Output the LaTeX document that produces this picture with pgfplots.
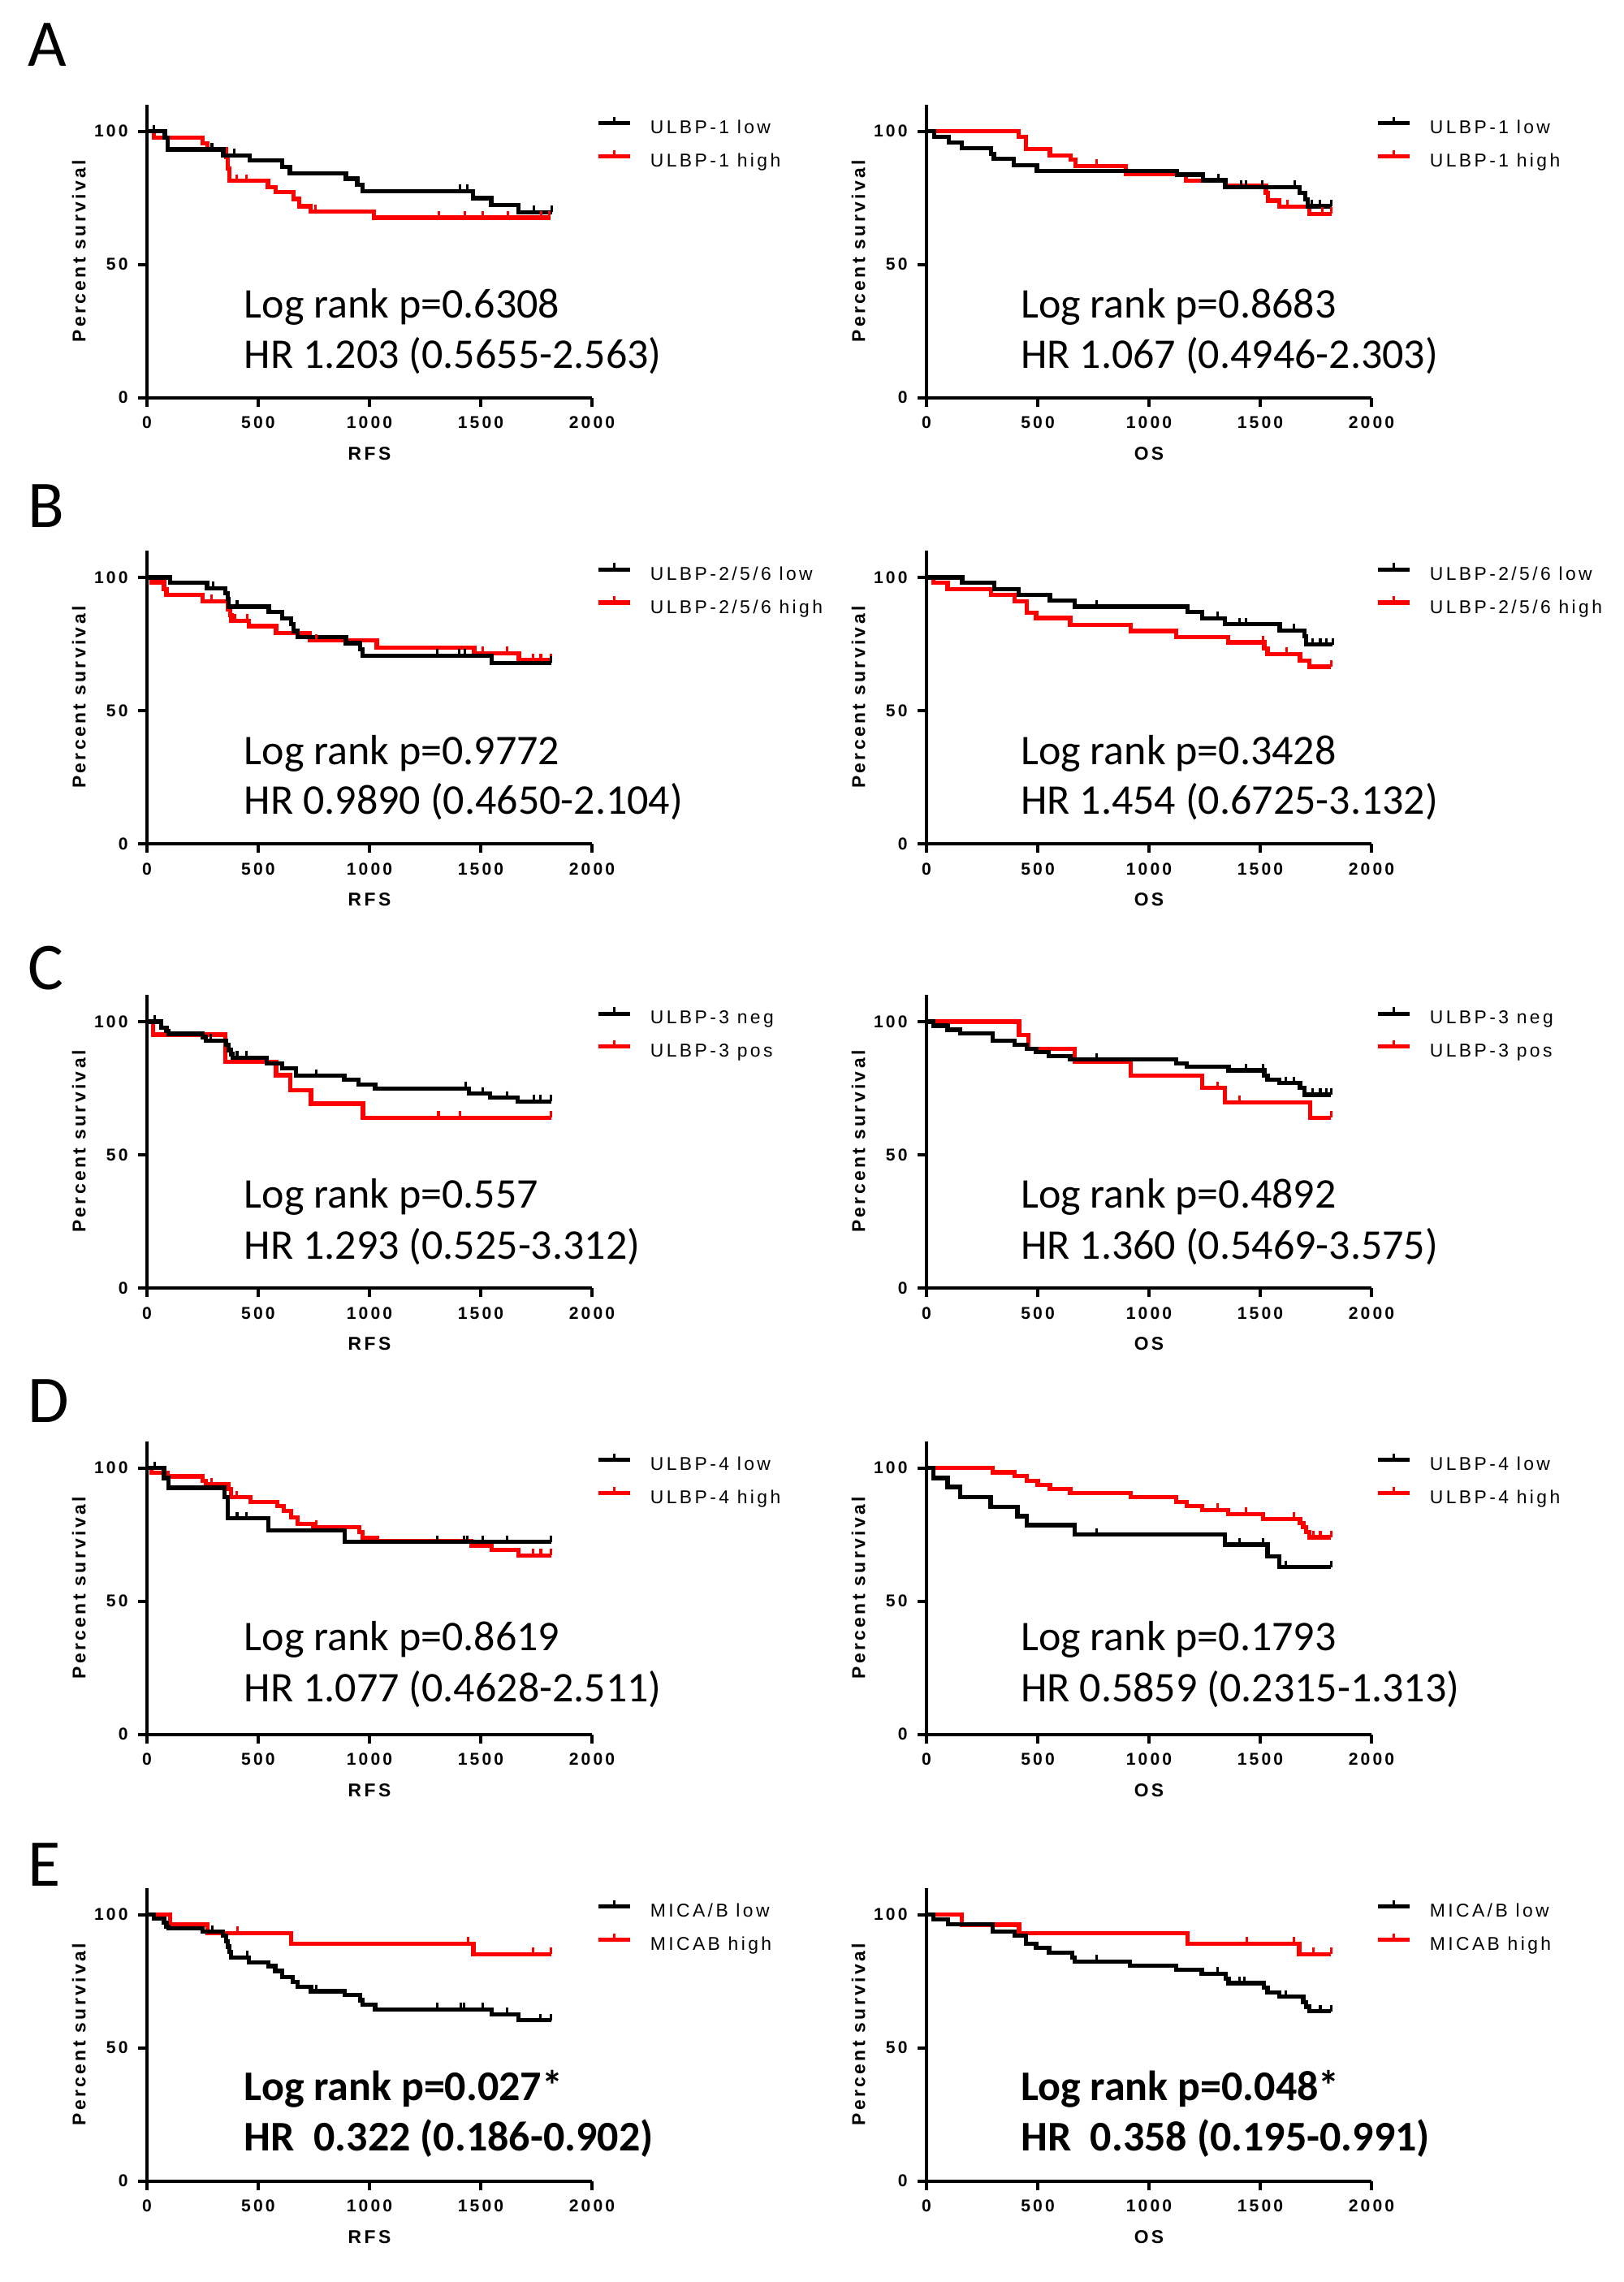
\documentclass[border=0pt]{standalone}
\usepackage{fontspec}
\setmainfont{Liberation Sans}
\newfontfamily\prismfont[LetterSpace=15]{Liberation Sans}
\newfontfamily\calfont{Carlito}
\usepackage{pgfplots}
\pgfplotsset{compat=1.18}

\newcommand\tickf{\prismfont\bfseries\fontsize{6}{7}\selectfont}
\newcommand\labf{\prismfont\bfseries\fontsize{6.5}{8}\selectfont}
\newcommand\legf{\prismfont\fontsize{6.5}{8}\selectfont}
\newcommand\statf{\calfont\fontsize{14.8}{17}\selectfont}
\newcommand\letf{\calfont\fontsize{23.4}{26}\selectfont}

\pgfplotsset{
  km/.style={
    scale only axis, width=54.8mm, height=36.08mm,
    xmin=0, xmax=2000, ymin=0, ymax=110,
    axis x line*=bottom, axis y line*=left,
    axis line style={-, line width=1.2pt},
    xtick={0,500,1000,1500,2000}, ytick={0,50,100},
    tick align=outside, major tick length=1.1mm,
    tick style={line width=1.2pt, black},
    ticklabel style={font=\tickf},
    /pgf/number format/assume math mode=true,
    /pgf/number format/1000 sep={},
    clip=false,
    ylabel={Percent survival},
    ylabel style={at={(rel axis cs:-0.153,0.5)}, anchor=center, font=\labf},
    xlabel style={at={(rel axis cs:0.5,-0.19)}, anchor=center, font=\labf},
    legend style={draw=none, fill=none, at={(rel axis cs:1.009,0.965)},
      anchor=north west, font=\legf, inner sep=0pt, row sep=1.3mm,
      column sep=2.2mm, nodes={inner sep=0pt}},
    legend cell align=left,
    legend image code/.code={
      \draw[##1, line width=1.5pt] (0mm,0.75mm) -- (3.9mm,0.75mm);
      \draw[##1, line width=0.9pt] (1.95mm,0.75mm) -- (1.95mm,1.55mm);},
  },
  surv/.style={const plot, line width=1.5pt, mark=none, forget plot},
  cens/.style={only marks, mark=|, mark size=0.4mm, forget plot,
    mark options={yshift=0.4mm, line width=0.9pt}},
}

\begin{document}
\begin{tikzpicture}
\path[use as bounding box] (0,0) rectangle (200mm,-281mm);

% panel letters
\node[anchor=base west, inner sep=0pt, font=\letf] at (3.4mm,-8.1mm) {A};
\node[anchor=base west, inner sep=0pt, font=\letf] at (3.4mm,-64.9mm) {B};
\node[anchor=base west, inner sep=0pt, font=\letf] at (3.4mm,-121.8mm) {C};
\node[anchor=base west, inner sep=0pt, font=\letf] at (3.4mm,-175.1mm) {D};
\node[anchor=base west, inner sep=0pt, font=\letf] at (3.4mm,-232.2mm) {E};

%% ---------------- A: ULBP-1 ----------------
\begin{axis}[km, at={(18.1mm,-48.96mm)}, anchor=south west, xlabel={RFS}]
\addplot[surv, red] coordinates {(0,100) (30,97.7) (250,95.4) (273,93.2) (355,90.4) (362,86) (370,81.4) (544,79.1) (579,77.2) (660,74.6) (684,71.8) (735,69.9) (1020,67.6) (1813,67.6)};
\addplot[cens, red] coordinates {(404,81.4) (446,81.4) (758,69.9) (1311,67.6) (1428,67.6) (1510,67.6) (1622,67.6) (1773,67.6) (1809,67.6)};
\addplot[surv, black] coordinates {(0,100) (80,97.7) (93,93.2) (343,91.0) (462,89.0) (607,86.7) (642,84.2) (894,82.2) (945,80.0) (968,77.5) (1466,74.9) (1547,72.4) (1669,69.6) (1820,69.6)};
\addplot[cens, black] coordinates {(30,100) (292,93.2) (392,91.0) (1407,77.5) (1440,77.5) (1739,69.6) (1820,69.6)};
\addlegendimage{black}\addlegendentry{ULBP-1 low}
\addlegendimage{red}\addlegendentry{ULBP-1 high}
\node[anchor=base west, inner sep=0pt, font=\statf] at (axis cs:435,29.9) {Log rank p=0.6308};
\node[anchor=base west, inner sep=0pt, font=\statf] at (axis cs:435,11.0) {HR 1.203 (0.5655-2.563)};
\end{axis}

\begin{axis}[km, at={(114.1mm,-48.96mm)}, anchor=south west, xlabel={OS}]
\addplot[surv, red] coordinates {(0,100) (413,98) (448,93.4) (555,91) (648,89.3) (671,87) (895,83.9) (1165,81.4) (1343,79.5) (1526,76.9) (1535,74) (1585,71.7) (1720,69) (1820,69)};
\addplot[cens, red] coordinates {(765,87) (1622,71.7) (1778,69) (1820,69)};
\addplot[surv, black] coordinates {(0,100) (35,98) (100,95.7) (159,93.6) (291,91.5) (303,89.6) (391,87.3) (496,85.0) (1126,83.7) (1242,81.6) (1343,79.1) (1678,76.9) (1702,74.4) (1713,71.8) (1820,71.8)};
\addplot[cens, black] coordinates {(1312,81.6) (1413,79.1) (1436,79.1) (1510,79.1) (1655,79.1) (1732,71.8) (1767,71.8) (1820,71.8)};
\addlegendimage{black}\addlegendentry{ULBP-1 low}
\addlegendimage{red}\addlegendentry{ULBP-1 high}
\node[anchor=base west, inner sep=0pt, font=\statf] at (axis cs:422,29.9) {Log rank p=0.8683};
\node[anchor=base west, inner sep=0pt, font=\statf] at (axis cs:422,11.0) {HR 1.067 (0.4946-2.303)};
\end{axis}

%% ---------------- B: ULBP-2/5/6 ----------------
\begin{axis}[km, at={(18.1mm,-103.9mm)}, anchor=south west, xlabel={RFS}]
\addplot[surv, red] coordinates {(0,100) (21,98.2) (77,95.6) (88,93.4) (251,91.1) (363,88) (374,85.8) (380,83.8) (458,81.7) (580,79.1) (733,76.3) (1033,73.6) (1471,71.6) (1672,68.9) (1816,68.9)};
\addplot[cens, red] coordinates {(289,91.1) (394,83.8) (450,83.8) (761,76.3) (1509,71.6) (1620,71.6) (1736,68.9) (1770,68.9) (1816,68.9)};
\addplot[surv, black] coordinates {(0,100) (105,98) (270,95.9) (353,94.1) (362,92) (367,89) (547,87) (607,84.7) (649,82.4) (660,79.9) (677,77.7) (894,75.3) (957,73) (968,70.6) (1548,67.9) (1816,67.9)};
\addplot[cens, black] coordinates {(297,95.9) (405,89) (1306,70.6) (1404,70.6) (1429,70.6) (1816,67.9)};
\addlegendimage{black}\addlegendentry{ULBP-2/5/6 low}
\addlegendimage{red}\addlegendentry{ULBP-2/5/6 high}
\node[anchor=base west, inner sep=0pt, font=\statf] at (axis cs:435,29.7) {Log rank p=0.9772};
\node[anchor=base west, inner sep=0pt, font=\statf] at (axis cs:435,11.0) {HR 0.9890 (0.4650-2.104)};
\end{axis}

\begin{axis}[km, at={(114.1mm,-103.9mm)}, anchor=south west, xlabel={OS}]
\addplot[surv, red] coordinates {(0,100) (32,98) (95,95.6) (290,93.4) (395,91.1) (451,86.8) (493,84.8) (646,82.1) (918,79.9) (1121,77.7) (1355,75.6) (1518,73.3) (1533,71.3) (1679,68.7) (1721,66.5) (1818,66.5)};
\addplot[cens, red] coordinates {(1512,75.6) (1620,71.3) (1818,66.5)};
\addplot[surv, black] coordinates {(0,100) (161,98) (304,95.6) (413,93.4) (555,91.3) (667,89) (1172,87) (1240,84.7) (1341,82.4) (1588,80.1) (1700,77.9) (1707,74.8) (1826,74.8)};
\addplot[cens, black] coordinates {(765,89) (1309,84.7) (1407,82.4) (1435,82.4) (1651,80.1) (1735,74.8) (1770,74.8) (1798,74.8) (1826,74.8)};
\addlegendimage{black}\addlegendentry{ULBP-2/5/6 low}
\addlegendimage{red}\addlegendentry{ULBP-2/5/6 high}
\node[anchor=base west, inner sep=0pt, font=\statf] at (axis cs:422,29.7) {Log rank p=0.3428};
\node[anchor=base west, inner sep=0pt, font=\statf] at (axis cs:422,11.0) {HR 1.454 (0.6725-3.132)};
\end{axis}

%% ---------------- C: ULBP-3 ----------------
\begin{axis}[km, at={(18.1mm,-158.6mm)}, anchor=south west, xlabel={RFS}]
\addplot[surv, red] coordinates {(0,100) (28,95.1) (353,85.0) (580,79.9) (643,74.3) (737,69.2) (971,63.9) (1816,63.9)};
\addplot[cens, red] coordinates {(1310,63.9) (1406,63.9) (1816,63.9)};
\addplot[surv, black] coordinates {(0,100) (63,97.8) (88,96.5) (98,95.4) (251,94.2) (265,92.9) (356,91.4) (367,89.3) (377,87.8) (384,86.5) (538,84.2) (607,82.4) (670,79.7) (887,78.1) (950,76.3) (1026,74.9) (1446,73) (1543,71.5) (1666,70) (1816,70)};
\addplot[cens, black] coordinates {(35,100) (286,92.9) (405,86.5) (447,86.5) (761,79.7) (1432,74.9) (1509,73) (1620,71.5) (1739,70) (1767,70) (1816,70)};
\addlegendimage{black}\addlegendentry{ULBP-3 neg}
\addlegendimage{red}\addlegendentry{ULBP-3 pos}
\node[anchor=base west, inner sep=0pt, font=\statf] at (axis cs:435,29.9) {Log rank p=0.557};
\node[anchor=base west, inner sep=0pt, font=\statf] at (axis cs:435,10.7) {HR 1.293 (0.525-3.312)};
\end{axis}

\begin{axis}[km, at={(114.1mm,-158.6mm)}, anchor=south west, xlabel={OS}]
\addplot[surv, red] coordinates {(0,100) (416,94.9) (458,89.8) (667,85.0) (918,79.7) (1239,75.1) (1341,69.7) (1725,63.9) (1818,63.9)};
\addplot[cens, red] coordinates {(1309,75.1) (1407,69.7) (1818,63.9)};
\addplot[surv, black] coordinates {(0,100) (32,98.5) (95,97) (151,95.6) (297,92.9) (395,91.4) (451,89.8) (493,88.5) (549,87.1) (646,85.8) (1121,84.4) (1169,83) (1358,81.7) (1518,79.7) (1533,78.3) (1585,76.9) (1679,75.1) (1700,72.6) (1818,72.6)};
\addplot[cens, black] coordinates {(765,85.8) (1435,81.7) (1512,81.7) (1616,76.9) (1651,76.9) (1735,72.6) (1770,72.6) (1798,72.6) (1818,72.6)};
\addlegendimage{black}\addlegendentry{ULBP-3 neg}
\addlegendimage{red}\addlegendentry{ULBP-3 pos}
\node[anchor=base west, inner sep=0pt, font=\statf] at (axis cs:422,29.9) {Log rank p=0.4892};
\node[anchor=base west, inner sep=0pt, font=\statf] at (axis cs:422,10.7) {HR 1.360 (0.5469-3.575)};
\end{axis}

%% ---------------- D: ULBP-4 ----------------
\begin{axis}[km, at={(18.1mm,-213.57mm)}, anchor=south west, xlabel={RFS}]
\addplot[surv, red] coordinates {(0,100) (21,98.2) (91,96.9) (251,95.3) (265,93.8) (367,92.1) (377,89.0) (466,87.3) (587,85.8) (615,84) (649,81.4) (677,79.1) (747,77.9) (954,76) (970,73.8) (1033,72.6) (1459,70.8) (1550,69.2) (1669,67.2) (1816,67.2)};
\addplot[cens, red] coordinates {(291,93.8) (403,89) (761,77.9) (1736,67.2) (1770,67.2) (1816,67.2)};
\addplot[surv, black] coordinates {(0,100) (77,96.3) (98,92.6) (349,89) (363,81.1) (545,76.6) (890,72.3) (1816,72.3)};
\addplot[cens, black] coordinates {(35,100) (405,81.1) (447,81.1) (1306,72.3) (1425,72.3) (1439,72.3) (1509,72.3) (1620,72.3) (1816,72.3)};
\addlegendimage{black}\addlegendentry{ULBP-4 low}
\addlegendimage{red}\addlegendentry{ULBP-4 high}
\node[anchor=base west, inner sep=0pt, font=\statf] at (axis cs:435,31.4) {Log rank p=0.8619};
\node[anchor=base west, inner sep=0pt, font=\statf] at (axis cs:435,12.2) {HR 1.077 (0.4628-2.511)};
\end{axis}

\begin{axis}[km, at={(114.1mm,-213.57mm)}, anchor=south west, xlabel={OS}]
\addplot[surv, red] coordinates {(0,100) (297,98.4) (395,97) (451,95.3) (500,93.6) (555,92.1) (646,90.6) (918,89) (1121,87.3) (1169,85.8) (1239,84.3) (1355,82.7) (1512,80.9) (1679,79.4) (1693,77.9) (1707,76) (1721,74) (1818,74)};
\addplot[cens, red] coordinates {(1309,84.3) (1435,82.7) (1651,80.9) (1739,74) (1770,74) (1818,74)};
\addplot[surv, black] coordinates {(0,100) (32,96.3) (95,92.9) (151,89.2) (288,85.5) (409,81.9) (451,78.6) (667,75) (1341,71.3) (1533,66.9) (1585,62.8) (1818,62.8)};
\addplot[cens, black] coordinates {(765,75) (1407,71.3) (1512,71.3) (1616,62.8) (1818,62.8)};
\addlegendimage{black}\addlegendentry{ULBP-4 low}
\addlegendimage{red}\addlegendentry{ULBP-4 high}
\node[anchor=base west, inner sep=0pt, font=\statf] at (axis cs:422,31.4) {Log rank p=0.1793};
\node[anchor=base west, inner sep=0pt, font=\statf] at (axis cs:422,12.2) {HR 0.5859 (0.2315-1.313)};
\end{axis}

%% ---------------- E: MICA/B ----------------
\begin{axis}[km, at={(18.1mm,-268.57mm)}, anchor=south west, xlabel={RFS}]
\addplot[surv, red] coordinates {(0,100) (105,96.3) (272,93.1) (647,89.1) (1467,85.2) (1816,85.2)};
\addplot[cens, red] coordinates {(406,93.1) (1442,89.1) (1736,85.2) (1816,85.2)};
\addplot[surv, black] coordinates {(0,100) (32,98.5) (77,97) (88,95.6) (98,95) (251,93.6) (342,92.1) (356,90.1) (363,88) (370,86) (377,84) (458,82.1) (545,80.7) (577,78.9) (607,76.6) (656,74.8) (677,73) (737,71.3) (890,69.8) (957,67.9) (970,66.2) (1026,64.5) (1548,62.6) (1669,60.4) (1816,60.4)};
\addplot[cens, black] coordinates {(293,93.6) (451,84) (761,71.3) (1306,64.5) (1411,64.5) (1425,64.5) (1509,64.5) (1620,62.6) (1767,60.4) (1816,60.4)};
\addlegendimage{black}\addlegendentry{MICA/B low}
\addlegendimage{red}\addlegendentry{MICAB high}
\node[anchor=base west, inner sep=0pt, font=\statf\bfseries] at (axis cs:435,30.2) {Log rank p=0.027*};
\node[anchor=base west, inner sep=0pt, font=\statf\bfseries] at (axis cs:435,11.4) {HR\ \ 0.322 (0.186-0.902)};
\end{axis}

\begin{axis}[km, at={(114.1mm,-268.57mm)}, anchor=south west, xlabel={OS}]
\addplot[surv, red] coordinates {(0,100) (158,96.3) (416,93.1) (1172,89.1) (1675,85.2) (1818,85.2)};
\addplot[cens, red] coordinates {(1441,89.1) (1651,89.1) (1739,85.2) (1818,85.2)};
\addplot[surv, black] coordinates {(0,100) (32,98.3) (98,96.4) (297,93.6) (395,92.1) (447,89.2) (493,87.5) (551,85.8) (656,84) (667,82.4) (914,80.9) (1121,79.4) (1237,77.9) (1344,76) (1358,74.3) (1516,72.6) (1533,70.8) (1585,69.2) (1693,67.2) (1707,65.5) (1721,63.7) (1818,63.7)};
\addplot[cens, black] coordinates {(765,82.4) (1309,77.9) (1407,74.3) (1428,74.3) (1616,69.2) (1770,63.7) (1818,63.7)};
\addlegendimage{black}\addlegendentry{MICA/B low}
\addlegendimage{red}\addlegendentry{MICAB high}
\node[anchor=base west, inner sep=0pt, font=\statf\bfseries] at (axis cs:422,30.2) {Log rank p=0.048*};
\node[anchor=base west, inner sep=0pt, font=\statf\bfseries] at (axis cs:422,11.4) {HR\ \ 0.358 (0.195-0.991)};
\end{axis}
\end{tikzpicture}
\end{document}
